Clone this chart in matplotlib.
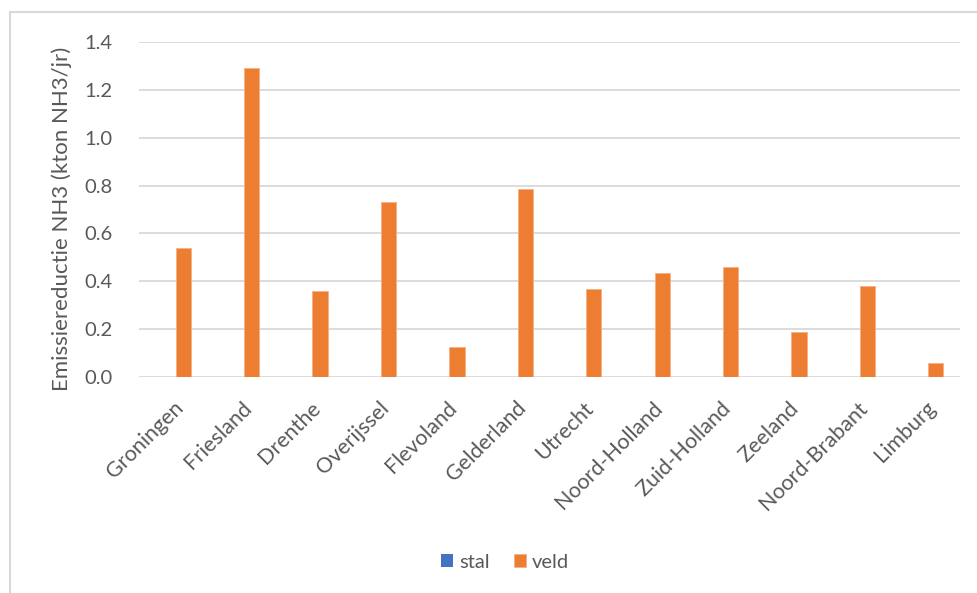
import matplotlib.pyplot as plt
import numpy as np
from matplotlib.patches import Rectangle

provinces = ["Groningen", "Friesland", "Drenthe", "Overijssel", "Flevoland",
             "Gelderland", "Utrecht", "Noord-Holland", "Zuid-Holland",
             "Zeeland", "Noord-Brabant", "Limburg"]
stal = [0.0] * len(provinces)
veld = [0.54, 1.29, 0.36, 0.73, 0.124, 0.784, 0.369, 0.436, 0.461, 0.189, 0.38, 0.057]
y_ticks = [0.0, 0.2, 0.4, 0.6, 0.8, 1.0, 1.2, 1.4]

plt.rcParams["font.family"] = ["Lato", "DejaVu Sans"]
GREY_TEXT = "#595959"
GRID = "#d9d9d9"

W, H = 978, 593
fig = plt.figure(figsize=(W / 100, H / 100), dpi=100)
ax = fig.add_axes([139 / W, 1 - 377 / H, (960 - 139) / W, (377 - 42) / H])

x = np.arange(len(provinces))
width = 0.223
shift = width / 2 + 0.035
ax.bar(x - shift, stal, width, color="#4472C4", label="stal")
ax.bar(x + shift, veld, width, color="#ED7D31", edgecolor="#F4B183",
       linewidth=0.6, label="veld")

ax.set_xlim(-0.5, len(provinces) - 0.5)
ax.set_ylim(0, 1.4)
ax.set_yticks(y_ticks)
ax.set_yticklabels([f"{v:.1f}" for v in y_ticks])
ax.set_xticks(x)
ax.set_xticklabels(provinces, rotation=45, ha="right", rotation_mode="anchor")

ax.grid(True, axis="y", color=GRID, linewidth=1.3)
ax.set_axisbelow(True)
for side in ax.spines.values():
    side.set_visible(False)
ax.tick_params(axis="y", length=0, colors=GREY_TEXT, labelsize=14.5, pad=19)
ax.tick_params(axis="x", length=0, colors=GREY_TEXT, labelsize=15.5, pad=15)

fig.text(62 / W, 1 - 219 / H, "Emissiereductie NH3 (kton NH3/jr)",
         rotation=90, ha="center", va="center", fontsize=16, color=GREY_TEXT)

fig.legend(loc="center", bbox_to_anchor=(505 / W, 1 - 562 / H), ncol=2,
           frameon=False, fontsize=14.5, handlelength=0.6, handleheight=0.6,
           handletextpad=0.3, columnspacing=1.2, labelcolor=GREY_TEXT)

# chart border
fig.patches.append(Rectangle((10 / W, -0.1), 1.2, 1 - 12 / H + 0.1,
                             transform=fig.transFigure, fill=False,
                             edgecolor=GRID, linewidth=1.5))

fig.savefig("out.png", dpi=100)
